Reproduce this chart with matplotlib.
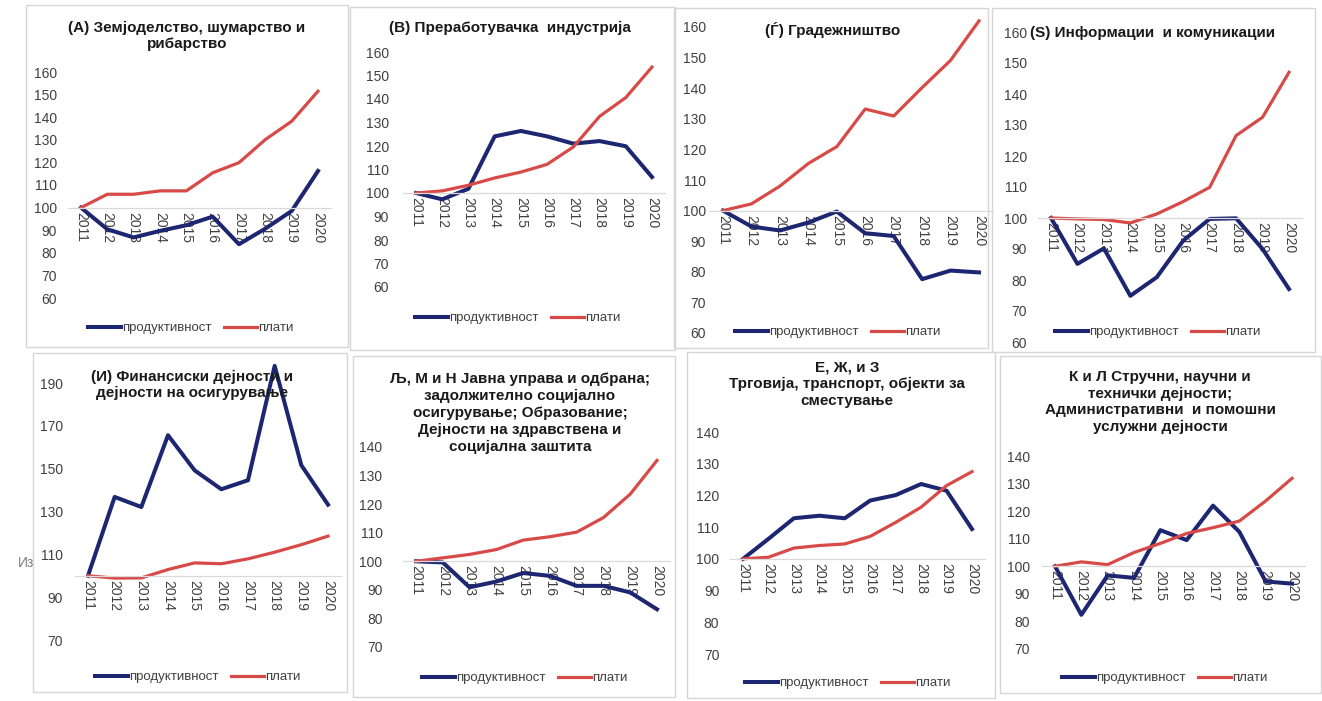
import matplotlib.pyplot as plt
from matplotlib.patches import Rectangle

plt.rcParams['font.family'] = ['Liberation Sans', 'DejaVu Sans']

# податоци (индекс, 2011 = 100)
years = ['2011', '2012', '2013', '2014', '2015', '2016', '2017', '2018', '2019', '2020']

prod_A = [100, 90.4, 86.8, 89.7, 92.2, 96.0, 83.8, 90.7, 98.5, 116.2]
wage_A = [100, 105.9, 105.9, 107.4, 107.4, 115.4, 119.9, 130.1, 138.2, 151.5]
prod_B = [100, 97.3, 101.8, 124.1, 126.4, 124.1, 121.0, 122.1, 119.9, 106.8]
wage_B = [100, 100.9, 103.3, 106.4, 108.9, 112.2, 119.6, 132.6, 140.6, 153.6]
prod_G = [100, 94.8, 93.5, 96.1, 99.7, 92.6, 91.7, 77.6, 80.4, 79.8]
wage_G = [100, 102.2, 108.0, 115.4, 120.9, 133.2, 130.9, 140.2, 149.1, 162.0]
prod_S = [100, 85.2, 90.2, 74.9, 80.9, 92.7, 99.7, 99.9, 90.0, 77.1]
wage_S = [100, 99.7, 99.5, 98.4, 101.3, 105.3, 109.9, 126.6, 132.5, 147.0]
prod_I = [100, 136.8, 132.1, 165.6, 149.2, 140.4, 144.6, 198.0, 151.6, 133.2]
wage_I = [100, 98.9, 99.0, 102.9, 106.0, 105.6, 107.9, 111.0, 114.5, 118.5]
prod_LJ = [100, 99.6, 90.9, 92.9, 95.9, 94.9, 91.4, 91.4, 89.1, 83.2]
wage_LJ = [100, 101.2, 102.4, 104.1, 107.4, 108.6, 110.2, 115.3, 123.5, 135.3]
prod_E = [100, 106.3, 112.8, 113.6, 112.8, 118.4, 120.1, 123.6, 121.5, 109.4]
wage_E = [100, 100.5, 103.4, 104.2, 104.7, 107.1, 111.5, 116.3, 123.1, 127.5]
prod_K = [100, 82.4, 96.7, 95.8, 113.1, 109.5, 122.0, 112.5, 94.5, 93.7]
wage_K = [100, 101.6, 100.6, 105.0, 108.3, 111.9, 114.0, 116.4, 123.7, 131.9]

titles = [
    '(А) Земјоделство, шумарство и\nрибарство',
    '(В) Преработувачка  индустрија',
    '(Ѓ) Градежништво',
    '(Ѕ) Информации  и комуникации',
    '(И) Финансиски дејности и\nдејности на осигурување',
    'Љ, М и Н Јавна управа и одбрана;\nзадолжително социјално\nосигурување; Образование;\nДејности на здравствена и\nсоцијална заштита',
    'Е, Ж, и З\nТрговија, транспорт, објекти за\nсместување',
    'К и Л Стручни, научни и\nтехнички дејности;\nАдминистративни  и помошни\nуслужни дејности',
]
series = [(prod_A, wage_A), (prod_B, wage_B), (prod_G, wage_G), (prod_S, wage_S),
          (prod_I, wage_I), (prod_LJ, wage_LJ), (prod_E, wage_E), (prod_K, wage_K)]
yticks = [(60, 160, 10), (60, 160, 10), (60, 160, 10), (60, 160, 10),
          (70, 190, 20), (70, 140, 10), (70, 140, 10), (70, 140, 10)]

# распоред во пиксели: рамка, x(2011), x(2020), y(долен тик), y(горен тик), пад, наслов, легенда
layout = [
    dict(box=(26, 5, 348, 347), x0=81, x1=318, ylo=298, yhi=72, pad=11, title=(187, 36), leg=(88, 328)),
    dict(box=(350, 7, 675, 350), x0=416, x1=652, ylo=287, yhi=52, pad=14, title=(510, 28), leg=(415, 318)),
    dict(box=(674, 8, 988, 348), x0=723, x1=979, ylo=333, yhi=27, pad=3, title=(833, 30), leg=(735, 332)),
    dict(box=(992, 8, 1315, 352), x0=1051, x1=1289, ylo=342, yhi=32, pad=11, title=(1153, 33), leg=(1055, 332)),
    dict(box=(33, 353, 347, 692), x0=88, x1=328, ylo=640, yhi=383, pad=12, title=(192, 385), leg=(95, 677)),
    dict(box=(353, 356, 675, 697), x0=416, x1=657, ylo=647, yhi=447, pad=20, title=(520, 413), leg=(422, 678)),
    dict(box=(687, 352, 995, 698), x0=743, x1=972, ylo=654, yhi=432, pad=11, title=(847, 384), leg=(745, 683)),
    dict(box=(1000, 356, 1321, 693), x0=1055, x1=1292, ylo=649, yhi=456, pad=12, title=(1160, 402), leg=(1062, 678)),
]

NAVY = '#1d2670'
RED = '#d84a47'
W, H = 1322, 701

fig = plt.figure(figsize=(W / 100, H / 100), dpi=100)


def fx(px):
    return px / W


def fy(py):
    return 1 - py / H


for (prod, wage), title, (lo, hi, step), lay in zip(series, titles, yticks, layout):
    bx0, by0, bx1, by1 = lay['box']
    fig.add_artist(Rectangle((fx(bx0), fy(by1)), (bx1 - bx0) / W, (by1 - by0) / H,
                             transform=fig.transFigure, fill=False, ec='#d6d6d6', lw=1))

    half = (lay['x1'] - lay['x0']) / 18
    left = lay['x0'] - half
    right = lay['x1'] + half
    ax = fig.add_axes([fx(left), fy(lay['ylo']), (right - left) / W, (lay['ylo'] - lay['yhi']) / H])
    ax.patch.set_alpha(0)

    for s in ['left', 'right', 'top']:
        ax.spines[s].set_visible(False)
    ax.spines['bottom'].set_position(('data', 100))
    ax.spines['bottom'].set_color('#d9d9d9')
    ax.spines['bottom'].set_linewidth(0.9)

    x = range(len(years))
    l1, = ax.plot(x, prod, color=NAVY, lw=2.9, clip_on=False, solid_joinstyle='round')
    l2, = ax.plot(x, wage, color=RED, lw=2.3, clip_on=False, solid_joinstyle='round')
    ax.set_xlim(-0.5, len(years) - 0.5)
    ax.set_ylim(lo, hi)
    ax.set_yticks(range(lo, hi + 1, step))
    ax.set_xticks(x, labels=years)

    ax.tick_params(axis='both', length=0, labelsize=10, colors='#404040')
    ax.tick_params(axis='y', pad=lay['pad'] / 1.389)
    ax.tick_params(axis='x', pad=3, labelrotation=-90)

    fig.text(fx(lay['title'][0]), fy(lay['title'][1]), title, ha='center', va='center',
             fontsize=11, fontweight='bold', color='#1a1a1a', linespacing=1.25)

    ax.legend([l1, l2], ['продуктивност', 'плати'], loc='center left',
              bbox_to_anchor=(fx(lay['leg'][0]), fy(lay['leg'][1])),
              bbox_transform=fig.transFigure, ncol=2, frameon=False,
              fontsize=9.5, handlelength=2.5, handletextpad=0.05, columnspacing=1.0,
              borderpad=0, borderaxespad=0, labelcolor='#404040')

fig.text(fx(18), fy(563), 'Из', ha='left', va='center', fontsize=10, color='#808080')

fig.savefig('out.png', dpi=100)
